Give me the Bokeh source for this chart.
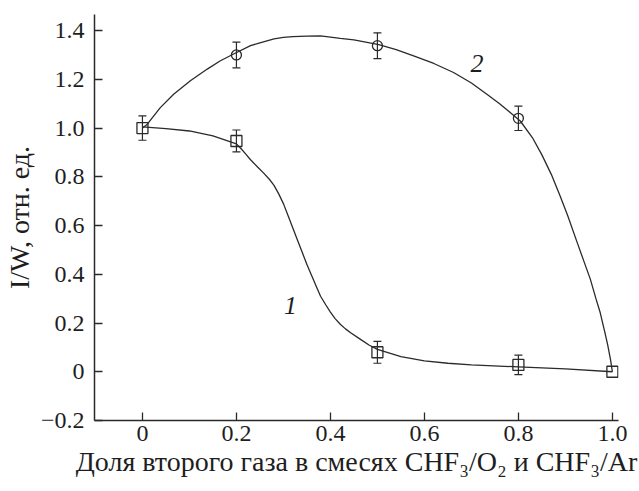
from bokeh.plotting import figure
from bokeh.models import (Range1d, FixedTicker, ColumnDataSource, Whisker, TeeHead, Label,
                          CustomJSTickFormatter)
from bokeh.embed import file_html
from bokeh.resources import INLINE

# ---- data ----
x_points = [0.0, 0.2, 0.5, 0.8, 1.0]
s1_y = [1.0, 0.947, 0.08, 0.028, 0.0]          # curve 1 (squares)
s1_err = [0.05, 0.045, 0.045, 0.04, 0.0]
s2_x = [0.2, 0.5, 0.8]                         # curve 2 (circles)
s2_y = [1.30, 1.338, 1.04]
s2_err = [0.053, 0.053, 0.05]

curve1_x = [0.0, 0.05, 0.1, 0.15, 0.2, 0.21, 0.22, 0.23, 0.245, 0.258, 0.27, 0.28, 0.29,
            0.3, 0.31, 0.32, 0.33, 0.34, 0.35, 0.36, 0.37, 0.379, 0.39, 0.4, 0.41, 0.421,
            0.432, 0.443, 0.464, 0.482, 0.5, 0.55, 0.6, 0.65, 0.7, 0.8, 0.9, 1.0]
curve1_y = [1.005, 0.998, 0.988, 0.968, 0.935, 0.915, 0.893, 0.87, 0.84, 0.815, 0.79, 0.765,
            0.73, 0.69, 0.64, 0.59, 0.54, 0.49, 0.44, 0.395, 0.35, 0.31, 0.275, 0.245, 0.218,
            0.195, 0.176, 0.16, 0.133, 0.11, 0.092, 0.062, 0.045, 0.035, 0.028, 0.02, 0.012, 0.0]
curve2_x = [0.0, 0.01, 0.02, 0.038, 0.067, 0.102, 0.138, 0.165, 0.194, 0.23, 0.25, 0.28, 0.3,
            0.32, 0.35, 0.379, 0.421, 0.45, 0.503, 0.54, 0.577, 0.62, 0.662, 0.7, 0.733, 0.76,
            0.78, 0.804, 0.83, 0.85, 0.87, 0.889, 0.905, 0.925, 0.94, 0.953, 0.965, 0.974,
            0.983, 0.99, 0.996, 1.0]
curve2_y = [1.0, 1.015, 1.04, 1.084, 1.14, 1.194, 1.242, 1.275, 1.304, 1.338, 1.35, 1.366,
            1.372, 1.375, 1.377, 1.378, 1.368, 1.362, 1.342, 1.322, 1.296, 1.265, 1.228, 1.185,
            1.139, 1.1, 1.068, 1.029, 0.96, 0.89, 0.81, 0.72, 0.64, 0.531, 0.45, 0.38, 0.30,
            0.243, 0.17, 0.11, 0.05, 0.0]

x_ticks = [0, 0.2, 0.4, 0.6, 0.8, 1.0]
x_tick_labels = ["0", "0.2", "0.4", "0.6", "0.8", "1.0"]
y_ticks = [-0.2, 0, 0.2, 0.4, 0.6, 0.8, 1.0, 1.2, 1.4]
y_tick_labels = ["\u22120.2", "0", "0.2", "0.4", "0.6", "0.8", "1.0", "1.2", "1.4"]

x_title = "Доля второго газа в смесях CHF\u2083/O\u2082 и CHF\u2083/Ar"
y_title = "I/W, отн. ед."
curve_names = ["1", "2"]

FONT = "Liberation Serif"
INK = "#2a2a2a"
TXT = "#1e1e1e"

p = figure(width=639, height=491,
           x_range=Range1d(-0.102, 1.013), y_range=Range1d(-0.2, 1.466),
           output_backend="svg", toolbar_location=None,
           min_border_left=94, min_border_right=21, min_border_top=14, min_border_bottom=71)
p.outline_line_color = None
p.grid.visible = False
p.background_fill_color = "white"

label_code = """
let best = 0, bd = Infinity;
for (let i = 0; i < tv.length; i++) {
  const d = Math.abs(tv[i] - tick);
  if (d < bd) { bd = d; best = i; }
}
return tl[best];
"""

p.xaxis.ticker = FixedTicker(ticks=x_ticks)
p.xaxis.formatter = CustomJSTickFormatter(args=dict(tv=x_ticks, tl=x_tick_labels), code=label_code)
p.yaxis.ticker = FixedTicker(ticks=y_ticks)
p.yaxis.formatter = CustomJSTickFormatter(args=dict(tv=y_ticks, tl=y_tick_labels), code=label_code)

p.axis.axis_line_color = INK
p.axis.axis_line_width = 1.5
p.axis.major_tick_line_color = INK
p.axis.major_tick_line_width = 1.3
p.axis.major_tick_in = 8
p.axis.major_tick_out = 0
p.axis.minor_tick_line_color = None
p.axis.major_label_text_font = FONT
p.axis.major_label_text_font_size = "24px"
p.axis.major_label_text_font_style = "normal"
p.axis.major_label_text_color = TXT
p.axis.axis_label_text_font = FONT
p.axis.axis_label_text_color = TXT
p.axis.axis_label_text_font_style = "normal"

p.xaxis.major_label_standoff = 5
p.xaxis.axis_label = x_title
p.xaxis.axis_label_text_font_size = "28px"
p.xaxis.axis_label_standoff = 2

p.yaxis.major_label_standoff = 10
p.yaxis.axis_label = y_title
p.yaxis.axis_label_text_font_size = "28px"
p.yaxis.axis_label_standoff = 3

# curves
p.line(curve1_x, curve1_y, line_color=INK, line_width=1.3)
p.line(curve2_x, curve2_y, line_color=INK, line_width=1.3)

# error bars
e1 = [(x, y, e) for x, y, e in zip(x_points, s1_y, s1_err) if e > 0]
src1 = ColumnDataSource(dict(x=[a for a, _, _ in e1],
                             upper=[b + c for _, b, c in e1],
                             lower=[b - c for _, b, c in e1]))
src2 = ColumnDataSource(dict(x=s2_x,
                             upper=[y + e for y, e in zip(s2_y, s2_err)],
                             lower=[y - e for y, e in zip(s2_y, s2_err)]))
for src in (src1, src2):
    p.add_layout(Whisker(base="x", upper="upper", lower="lower", source=src,
                         line_color=INK, line_width=1.2,
                         upper_head=TeeHead(size=8, line_color=INK, line_width=1.2),
                         lower_head=TeeHead(size=8, line_color=INK, line_width=1.2)))

# markers
p.scatter(x_points, s1_y, marker="square", size=11, fill_color="white", fill_alpha=0.0,
          line_color=INK, line_width=1.3)
p.scatter(s2_x, s2_y, marker="circle", size=10, fill_color="white", fill_alpha=0.0,
          line_color=INK, line_width=1.3)

# curve numbers
p.add_layout(Label(x=0.315, y=0.27, text=curve_names[0], text_font=FONT, text_font_size="26px",
                   text_font_style="italic", text_align="center", text_baseline="middle",
                   text_color=TXT))
p.add_layout(Label(x=0.712, y=1.265, text=curve_names[1], text_font=FONT, text_font_size="26px",
                   text_font_style="italic", text_align="center", text_baseline="middle",
                   text_color=TXT))

open("out.html", "w").write(file_html(p, INLINE))
